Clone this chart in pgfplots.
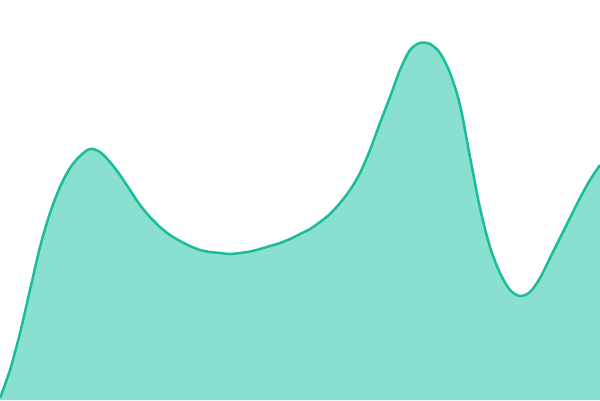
\documentclass[border=0pt]{standalone}
\usepackage{pgfplots}
\pgfplotsset{compat=1.18}
\definecolor{lineteal}{HTML}{1ABC9C}
\definecolor{fillteal}{HTML}{8AE0CF}

\begin{document}
\begin{tikzpicture}
\begin{axis}[
    width=600bp, height=400bp,
    scale only axis,
    hide axis,
    xmin=0, xmax=600,
    ymin=0, ymax=400,
    clip=true,
]
% y values are 400 minus the pixel row
\pgfplotstableread{
x y
0 2
10 30
20 67
30 110
40 153
50 187
60 213
70 232
80 244
90 251
100 248
110 238
120 225
130 210
140 195
150 183
160 173
170 165
180 159
190 154
200 150
210 148
220 147
230 146
240 147
250 148.5
260 151
270 154
280 157
290 161
300 166
310 171
320 178
330 186
340 197
350 210
360 227
370 250
380 277
390 303
400 330
410 350
420 357
430 356
440 347
450 327
460 295
470 243
480 192
490 153
500 127
510 110
520 104
530 108
540 122
550 142
560 162
570 182
580 202
590 220
600 235
}\curve
\addplot[draw=none, fill=fillteal, smooth, tension=0.5] table {\curve} \closedcycle;
\addplot[draw=lineteal, line width=2.5bp, smooth, tension=0.5] table {\curve};
\end{axis}
\pgfresetboundingbox
\useasboundingbox (current axis.south west) rectangle (current axis.north east);
\end{tikzpicture}
\end{document}
